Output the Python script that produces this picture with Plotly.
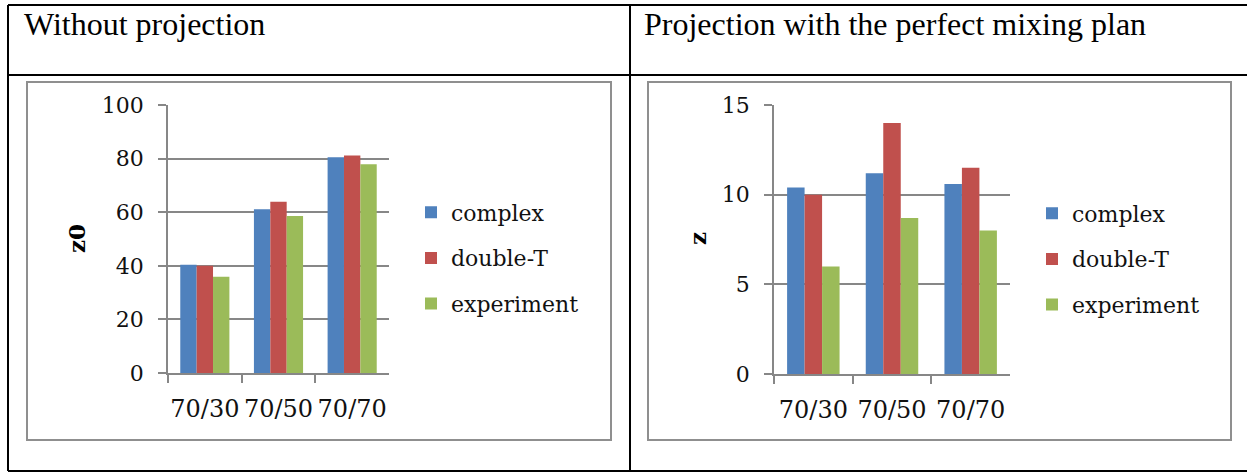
"""Two Excel-style grouped bar charts laid out inside a two-cell table."""
import plotly.graph_objects as go

W, H = 1247, 473

categories = ["70/30", "70/50", "70/70"]
series_names = ["complex", "double-T", "experiment"]

# left panel: z0 without projection
z0_complex = [40.4, 61.1, 80.5]
z0_double_t = [40.0, 63.9, 81.2]
z0_experiment = [35.9, 58.6, 77.9]

# right panel: z with the perfect mixing plan
z_complex = [10.4, 11.2, 10.6]
z_double_t = [10.0, 14.0, 11.5]
z_experiment = [6.0, 8.7, 8.0]

headers = ["Without projection", "Projection with the perfect mixing plan"]

colors = ["#4F81BD", "#C0504D", "#9BBB59"]
GRID = "#878787"
BOX = "#8f8f8f"
FONT = "DejaVu Serif"


def px(x):
    return x / W


def py(y):
    return 1 - y / H


fig = go.Figure()

for i, (name, vals) in enumerate(zip(series_names, [z0_complex, z0_double_t, z0_experiment])):
    fig.add_trace(go.Bar(
        x=categories, y=vals, name=name,
        marker=dict(color=colors[i], line=dict(width=0)),
        xaxis="x", yaxis="y",
        legend="legend", legendgroup=f"l{i}",
    ))

for i, (name, vals) in enumerate(zip(series_names, [z_complex, z_double_t, z_experiment])):
    fig.add_trace(go.Bar(
        x=categories, y=vals, name=name,
        marker=dict(color=colors[i], line=dict(width=0)),
        xaxis="x2", yaxis="y2",
        legend="legend2", legendgroup=f"r{i}",
    ))

xaxis_style = dict(
    type="category",
    showline=True, linecolor=GRID, linewidth=1.5,
    ticks="outside", tickson="boundaries", ticklen=8, tickcolor=GRID, tickwidth=1.5,
    showgrid=False, zeroline=False,
    tickangle=0, automargin=False,
    tickfont=dict(family=FONT, size=24, color="#111111"),
    ticklabelstandoff=13,
    fixedrange=True,
)
yaxis_style = dict(
    showline=True, linecolor=GRID, linewidth=1.5,
    ticks="outside", ticklen=8, tickcolor=GRID, tickwidth=1.5,
    showgrid=True, gridcolor=GRID, gridwidth=1.5,
    zeroline=False, automargin=False,
    tickfont=dict(family=FONT, size=22, color="#111111"),
    ticklabelstandoff=10,
    fixedrange=True,
)

legend_style = dict(
    font=dict(family=FONT, size=22, color="#111111"),
    xanchor="left", yanchor="middle",
    tracegroupgap=14,
    itemwidth=30,
    bgcolor="rgba(0,0,0,0)",
    itemclick=False, itemdoubleclick=False,
)

fig.update_layout(
    width=W, height=H,
    margin=dict(l=0, r=0, t=0, b=0, autoexpand=False),
    paper_bgcolor="white", plot_bgcolor="white",
    barmode="group", bargap=0.333, bargroupgap=0,
    showlegend=True,
    xaxis=dict(domain=[px(168), px(389)], anchor="y", **xaxis_style),
    yaxis=dict(domain=[py(373), py(105)], anchor="x", range=[0, 100], dtick=20, **yaxis_style),
    xaxis2=dict(domain=[px(774), px(1010)], anchor="y2", **xaxis_style),
    yaxis2=dict(domain=[py(374), py(105)], anchor="x2", range=[0, 15], dtick=5, **yaxis_style),
    legend=dict(x=px(411), y=py(258), **legend_style),
    legend2=dict(x=px(1032), y=py(259), **legend_style),
)

# table lines (black) and chart frames (gray)
shapes = [
    dict(x0=px(8), x1=px(1247), y0=py(5), y1=py(5)),
    dict(x0=px(8), x1=px(1247), y0=py(75), y1=py(75)),
    dict(x0=px(8), x1=px(1247), y0=py(471), y1=py(471)),
    dict(x0=px(8), x1=px(8), y0=py(5), y1=py(471)),
    dict(x0=px(630), x1=px(630), y0=py(5), y1=py(471)),
]
for s in shapes:
    fig.add_shape(type="line", xref="paper", yref="paper",
                  line=dict(color="black", width=2), **s)

for x0, x1 in [(27, 611), (648, 1231)]:
    fig.add_shape(type="rect", xref="paper", yref="paper",
                  x0=px(x0), x1=px(x1), y0=py(440), y1=py(82),
                  line=dict(color=BOX, width=2), fillcolor="rgba(0,0,0,0)",
                  layer="below")

for text, x in zip(headers, [22, 642]):
    fig.add_annotation(text=text, x=px(x), y=py(24), xref="paper", yref="paper",
                       xanchor="left", yanchor="middle", showarrow=False,
                       font=dict(family="Liberation Serif", size=32, color="black"))

for text, x in [("<b>z0</b>", 77), ("<b>z</b>", 698)]:
    fig.add_annotation(text=text, x=px(x), y=py(239), xref="paper", yref="paper",
                       xanchor="center", yanchor="middle", showarrow=False,
                       textangle=-90,
                       font=dict(family=FONT, size=23, color="black"))

# the page body has a default 8px margin; drop it so the figure sits at 0,0
fig.write_html("out.html", config={"displayModeBar": False},
               post_script="document.body.style.margin='0';"
                           "document.body.style.overflow='hidden';")
